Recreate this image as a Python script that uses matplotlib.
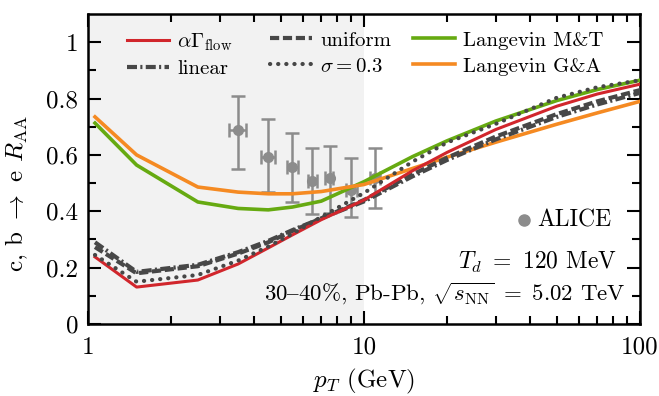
import matplotlib
matplotlib.use("Agg")
import matplotlib.pyplot as plt
import numpy as np

plt.rcParams['font.family'] = ['cmr10', 'DejaVu Serif']
plt.rcParams['mathtext.fontset'] = 'cm'
plt.rcParams['axes.formatter.use_mathtext'] = True

# model curves, c,b -> e R_AA vs pT
pt = [1.06, 1.5, 2.5, 3.5, 4.5, 5.5, 7, 10, 15, 20, 30, 50, 70, 100]
r_flow = [0.238, 0.131, 0.156, 0.213, 0.27, 0.316, 0.37, 0.44, 0.544, 0.609, 0.69, 0.773, 0.816, 0.851]
r_uniform = [0.273, 0.18, 0.205, 0.25, 0.29, 0.33, 0.375, 0.44, 0.531, 0.59, 0.665, 0.745, 0.79, 0.83]
r_linear = [0.29, 0.185, 0.21, 0.255, 0.295, 0.333, 0.375, 0.435, 0.524, 0.582, 0.655, 0.735, 0.779, 0.82]
r_sigma = [0.245, 0.15, 0.174, 0.225, 0.275, 0.32, 0.38, 0.465, 0.576, 0.644, 0.71, 0.803, 0.84, 0.865]
r_mt = [0.713, 0.564, 0.433, 0.41, 0.405, 0.415, 0.436, 0.505, 0.594, 0.65, 0.72, 0.793, 0.832, 0.865]
r_ga = [0.735, 0.60, 0.486, 0.468, 0.462, 0.462, 0.47, 0.495, 0.552, 0.592, 0.645, 0.709, 0.749, 0.79]

# ALICE data
alice_pt = [3.5, 4.5, 5.5, 6.5, 7.5, 9, 11]
alice_xerr = [0.25, 0.25, 0.25, 0.25, 0.25, 0.4, 0.45]
alice_r = [0.688, 0.592, 0.557, 0.507, 0.518, 0.475, 0.517]
alice_hi = [0.809, 0.727, 0.677, 0.624, 0.631, 0.589, 0.624]
alice_lo = [0.55, 0.468, 0.433, 0.39, 0.394, 0.379, 0.41]

red = '#d1262c'
green = '#66aa11'
orange = '#f58a22'
dark = '#474747'
grey = '#8c8c8c'

fig = plt.figure(figsize=(6.59, 3.96), dpi=100)
ax = fig.add_axes([88 / 659, 72 / 396, 552 / 659, 310 / 396])

ax.axvspan(1, 10, color='#f2f2f2', zorder=0, lw=0)

yerr = [np.array(alice_r) - np.array(alice_lo), np.array(alice_hi) - np.array(alice_r)]
ax.errorbar(alice_pt, alice_r, yerr=yerr, xerr=alice_xerr, fmt='o', color=grey,
            ms=7, elinewidth=1.8, capsize=5, capthick=1.8, zorder=2)

l_mt, = ax.plot(pt, r_mt, color=green, lw=2.6, zorder=3)
l_ga, = ax.plot(pt, r_ga, color=orange, lw=2.6, zorder=3)
l_uni, = ax.plot(pt, r_uniform, color=dark, lw=3, ls=(0, (2.2, 0.9)), zorder=4)
l_lin, = ax.plot(pt, r_linear, color=dark, lw=3, ls=(0, (2.4, 0.8, 0.5, 0.8)), zorder=4)
l_flow, = ax.plot(pt, r_flow, color=red, lw=2.2, zorder=5)
l_sig, = ax.plot(pt, r_sigma, color=dark, lw=3, ls=(0, (0.05, 1.9)), dash_capstyle='round',
                 zorder=6)

ax.set_xscale('log')
ax.set_xlim(1, 100)
ax.set_ylim(0, 1.1)
ax.set_yticks([0, 0.2, 0.4, 0.6, 0.8, 1.0])
ax.set_yticklabels(['0', '0.2', '0.4', '0.6', '0.8', '1'])
ax.set_yticks(np.arange(0.1, 1.1, 0.2), minor=True)
ax.set_xticks([1, 10, 100])
ax.set_xticklabels(['1', '10', '100'])

ax.tick_params(which='both', direction='in', top=True, right=True, labelsize=18, width=1.5)
ax.tick_params(which='major', length=9.5)
ax.tick_params(axis='x', which='major', pad=9)
ax.tick_params(axis='y', which='major', pad=7)
ax.tick_params(which='minor', length=5.5)
for s in ax.spines.values():
    s.set_linewidth(1.8)

ax.set_xlabel(r'$p_T$ (GeV)', fontsize=18, labelpad=6)
ax.set_ylabel(r'c, b $\rightarrow$ e $R_{\rm AA}$', fontsize=18)
ax.yaxis.set_label_coords(-0.105, 0.42)

# legend in three columns
leg_opts = dict(frameon=False, fontsize=15, loc='upper left', handlelength=2.0,
                handletextpad=0.4, labelspacing=0.35, borderaxespad=0, borderpad=0)
leg1 = ax.legend([l_flow, l_lin], [r'$\alpha\Gamma_{\rm flow}$', 'linear'],
                 bbox_to_anchor=(0.0707, 0.945), **leg_opts)
ax.add_artist(leg1)
leg2 = ax.legend([l_uni, l_sig], ['uniform', r'$\sigma = 0.3$'],
                 bbox_to_anchor=(0.33, 0.945), **leg_opts)
ax.add_artist(leg2)
ax.legend([l_mt, l_ga], ['Langevin M&T', 'Langevin G&A'],
          bbox_to_anchor=(0.589, 0.945), **leg_opts)

ax.plot([0.79], [0.335], 'o', color=grey, ms=8, transform=ax.transAxes, clip_on=False)
ax.text(0.814, 0.335, 'ALICE', transform=ax.transAxes, fontsize=17, va='center')
ax.text(0.958, 0.2, r'$T_d\ =\ 120$ MeV', transform=ax.transAxes, fontsize=17,
        ha='right', va='center')
ax.text(0.973, 0.097, r'30$\mathrm{–}$40%, Pb-Pb, $\sqrt{s_{\rm NN}}\ =\ 5.02$ TeV',
        transform=ax.transAxes, fontsize=16.5, ha='right', va='center')

fig.savefig('out.png', dpi=100)
